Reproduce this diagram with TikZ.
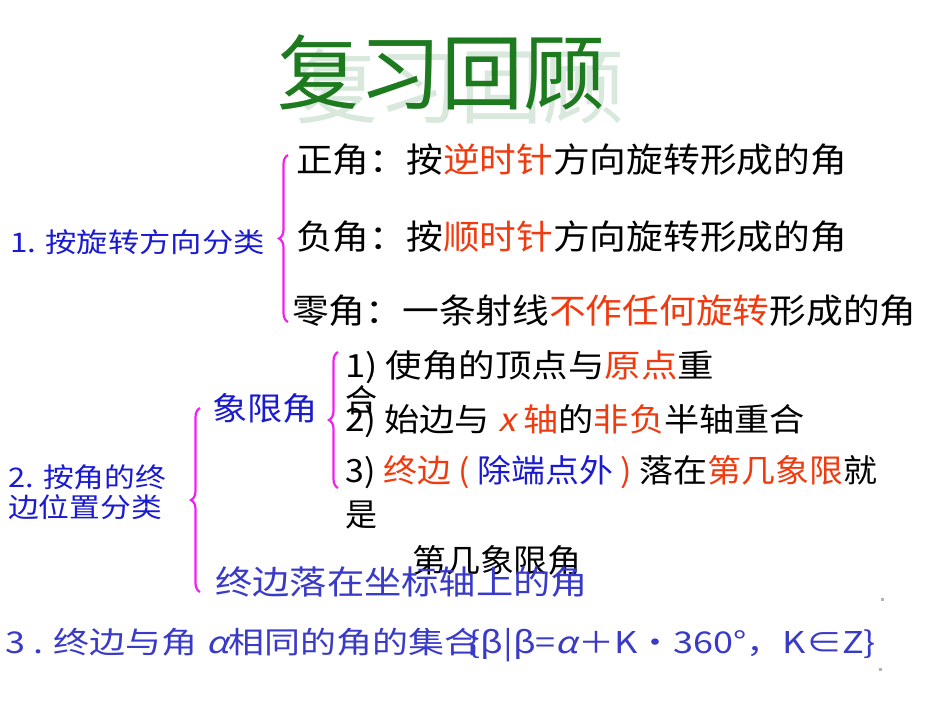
\documentclass[tikz,border=0pt]{standalone}
\usepackage{fontspec}
\setmainfont{Noto Sans CJK SC}
\newfontfamily\slantf[FakeSlant=0.2]{Noto Sans CJK SC}
\usetikzlibrary{decorations.pathreplacing}
\definecolor{rd}{HTML}{F03A10}
\definecolor{bl}{HTML}{1A1AD0}
\definecolor{bl2}{HTML}{3A3AC8}
\definecolor{ttl}{HTML}{1E7A1E}
\definecolor{shd}{HTML}{D8E8DC}
\definecolor{mg}{HTML}{F020F0}
\newcommand{\sx}[2]{\scalebox{#1}[1]{#2}}
\tikzset{x=1pt,y=-1pt,
 txt/.style={anchor=west,inner sep=0pt,font=\fontsize{34}{36}\selectfont},
 lbl/.style={anchor=west,inner sep=0pt,font=\fontsize{27}{30}\selectfont,text=bl},
 br/.style={draw=mg,line width=2.2pt,decorate,decoration={brace,amplitude=9pt,mirror}}}
\begin{document}
\begin{tikzpicture}
\useasboundingbox (0,0) rectangle (950,713);
\node[anchor=center,text=shd,font=\fontsize{82}{86}\selectfont] (sh) at (460,86) {复习回顾};
\node[anchor=center,text=ttl,font=\fontsize{82}{86}\selectfont] (title) at (441,72) {复习回顾};
% group 1
\coordinate (b1t) at (288,155); \coordinate (b1b) at (288,322);
\draw[br] (b1t) -- (b1b);
\node[lbl] (g1) at (10,242) {\sx{1.16}{1. 按旋转方向分类}};
\node[txt] (z1) at (296,160) {\sx{1.08}{正角：按\textcolor{rd}{逆时针}方向旋转形成的角}};
\node[txt] (z2) at (296,237) {\sx{1.08}{负角：按\textcolor{rd}{顺时针}方向旋转形成的角}};
\node[txt] (z3) at (292,311) {\sx{1.08}{零角：一条射线\textcolor{rd}{不作任何旋转}形成的角}};
% group 2
\coordinate (b2t) at (200,408); \coordinate (b2b) at (200,592);
\draw[br] (b2t) -- (b2b);
\node[lbl,align=left] (g2) at (8,492) {\sx{1.14}{2. 按角的终}\\\sx{1.14}{边位置分类}};
\node[txt,text=bl,font=\fontsize{32}{34}\selectfont] (xq) at (212,408) {\sx{1.1}{象限角}};
\coordinate (b3t) at (338,352); \coordinate (b3b) at (338,488);
\draw[br] (b3t) -- (b3b);
\node[txt,font=\fontsize{32}{34}\selectfont] (s1) at (345,367) {\sx{1.14}{1) 使角的顶点与\textcolor{rd}{原点}重}};
\node[txt,font=\fontsize{32}{34}\selectfont] (s1b) at (345,400) {合};
\node[txt,font=\fontsize{32}{34}\selectfont] (s2) at (345,421) {\sx{1.1}{2) 始边与 \textcolor{rd}{\slantf x} \textcolor{rd}{轴}的\textcolor{rd}{非负}半轴重合}};
\node[txt,font=\fontsize{32}{34}\selectfont] (s3) at (345,472) {\sx{1.06}{3) \textcolor{rd}{终边 (} \textcolor{bl}{除端点外} \textcolor{rd}{)} 落在\textcolor{rd}{第几象限}就}};
\node[txt,font=\fontsize{32}{34}\selectfont] (s3b) at (345,515) {是};
\node[txt,font=\fontsize{32}{34}\selectfont] (s3c) at (412,560) {\sx{1.06}{第几象限角}};
\node[txt,text=bl2,font=\fontsize{33}{34}\selectfont] (zb) at (215,582) {\sx{1.13}{终边落在坐标轴上的角}};
% group 3
\node[lbl,text=bl2,font=\fontsize{30}{32}\selectfont] (g3) at (5,645) {\sx{1.2}{3 . 终边与角 {\slantf α}相同的角的集合\hspace{-10pt}\{β|β={\slantf α}＋K·360°，K∈Z\}}};
\fill[gray!60] (881,598) rectangle (884,601);
\fill[gray!60] (879,668) rectangle (882,671);
\end{tikzpicture}
\end{document}
